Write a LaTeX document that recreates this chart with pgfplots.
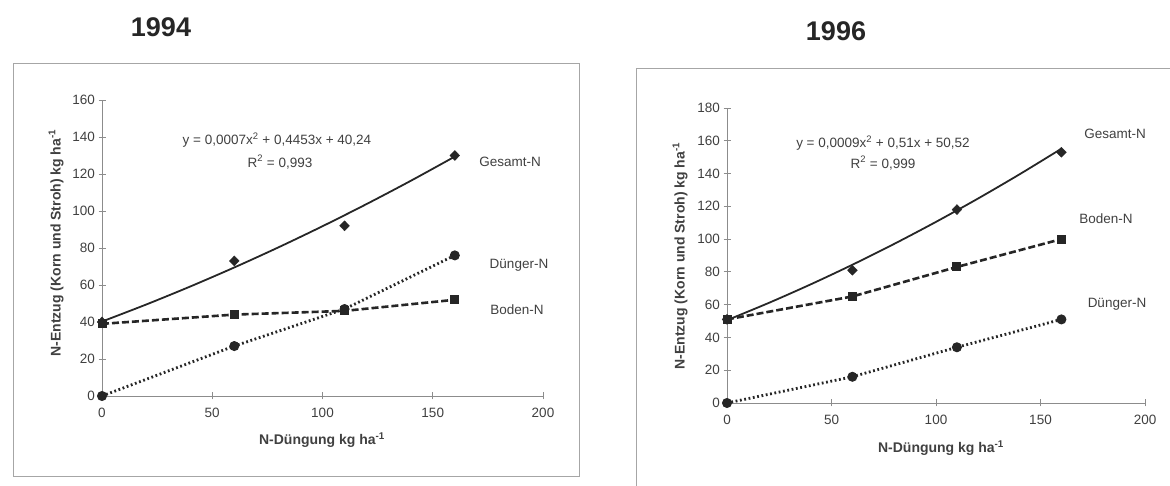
\documentclass[border=0pt]{standalone}
\usepackage{fontspec}
\setmainfont{Liberation Sans}
\usepackage{pgfplots}
\pgfplotsset{compat=1.18}
\definecolor{axgray}{gray}{0.55}
\definecolor{txt}{gray}{0.25}
\definecolor{dat}{gray}{0.15}
\begin{document}
\begin{tikzpicture}
\useasboundingbox (0pt,0pt) rectangle (1170pt,486pt);
\clip (0pt,0pt) rectangle (1170pt,486pt);
\pgfplotsset{
 every axis/.append style={
  scale only axis, axis lines=left,
  axis line style={axgray, line width=0.8pt, -},
  tick style={axgray, line width=0.8pt}, tick align=center, major tick length=7pt,
  xmin=0, xmax=200, xtick={0,50,...,200}, ymin=0,
  tick label style={font=\fontsize{13.5}{16}\selectfont, text=txt},
  xticklabel style={yshift=-5pt},
  /pgf/number format/assume math mode=true,
  clip=false, anchor=origin,
 },
 gesm/.style={only marks, mark=diamond*, mark size=5pt, mark options={fill=dat, draw=dat, xscale=1.3}},
 gesl/.style={no marks, solid, dat, line width=1.8pt, smooth},
 bod/.style={dat, line width=2.6pt, dash pattern=on 7pt off 3pt, mark=square*, mark size=4pt, mark options={solid, fill=dat, draw=dat, line width=1pt}},
 dung/.style={dat, line width=2.8pt, dash pattern=on 1.8pt off 2.6pt, mark=*, mark size=4.5pt, mark options={solid, fill=dat, draw=dat, line width=1pt}},
}
\begin{scope}[x=1pt,y=1pt]
% frames
\draw[gray!70, line width=0.8pt] (13,10) rectangle (579,423);
\draw[gray!70, line width=0.8pt] (1180,418) -- (636,418) -- (636,-10);
% titles
\node[font=\fontsize{27}{30}\selectfont\bfseries, text=dat] at (161,459) {1994};
\node[font=\fontsize{27}{30}\selectfont\bfseries, text=dat] at (836,455) {1996};
\end{scope}

% ---------- 1994 ----------
\begin{axis}[at={(102pt,90pt)}, width=441pt, height=296pt, ymax=160, ytick={0,20,...,160}]
\addplot[gesl] coordinates {(0,40.24) (20,49.43) (40,59.17) (60,69.48) (80,80.34) (100,91.77) (120,103.76) (140,116.30) (160,129.41)};
\addplot[bod] coordinates {(0,39) (60,44) (110,46) (160,52)};
\addplot[dung] coordinates {(0,0) (60,27) (110,47) (160,76)};
\addplot[gesm] coordinates {(0,40) (60,73) (110,92) (160,130)};
\end{axis}

% ---------- 1996 ----------
\begin{axis}[at={(727pt,83pt)}, width=418pt, height=295pt, ymax=180, ytick={0,20,...,180}]
\addplot[gesl] coordinates {(0,50.52) (20,61.08) (40,72.36) (60,84.36) (80,97.08) (100,110.52) (120,124.68) (140,139.56) (160,155.16)};
\addplot[bod] coordinates {(0,51) (60,65) (110,83) (160,100)};
\addplot[dung] coordinates {(0,0) (60,16) (110,34) (160,51)};
\addplot[gesm] coordinates {(0,51) (60,81) (110,118) (160,153)};
\end{axis}

\begin{scope}[x=1pt,y=1pt, every node/.style={font=\fontsize{13.5}{16}\selectfont, text=txt}]
\node at (277,346) {y = 0,0007x\textsuperscript{2} + 0,4453x + 40,24};
\node at (280,324) {R\textsuperscript{2} = 0,993};
\node at (510,324) {Gesamt-N};
\node at (519,221) {Dünger-N};
\node at (517,176) {Boden-N};
\node at (883,343) {y = 0,0009x\textsuperscript{2} + 0,51x + 50,52};
\node at (883,323) {R\textsuperscript{2} = 0,999};
\node at (1115,352) {Gesamt-N};
\node at (1106,267) {Boden-N};
\node at (1117,182) {Dünger-N};
\node[font=\fontsize{14}{16}\selectfont\bfseries] at (322,46) {N-Düngung kg ha\textsuperscript{-1}};
\node[font=\fontsize{14}{16}\selectfont\bfseries, rotate=90] at (56,243) {N-Entzug (Korn und Stroh) kg ha\textsuperscript{-1}};
\node[font=\fontsize{14}{16}\selectfont\bfseries] at (941,38) {N-Düngung kg ha\textsuperscript{-1}};
\node[font=\fontsize{14}{16}\selectfont\bfseries, rotate=90] at (680,230) {N-Entzug (Korn und Stroh) kg ha\textsuperscript{-1}};
\end{scope}
\end{tikzpicture}
\end{document}
